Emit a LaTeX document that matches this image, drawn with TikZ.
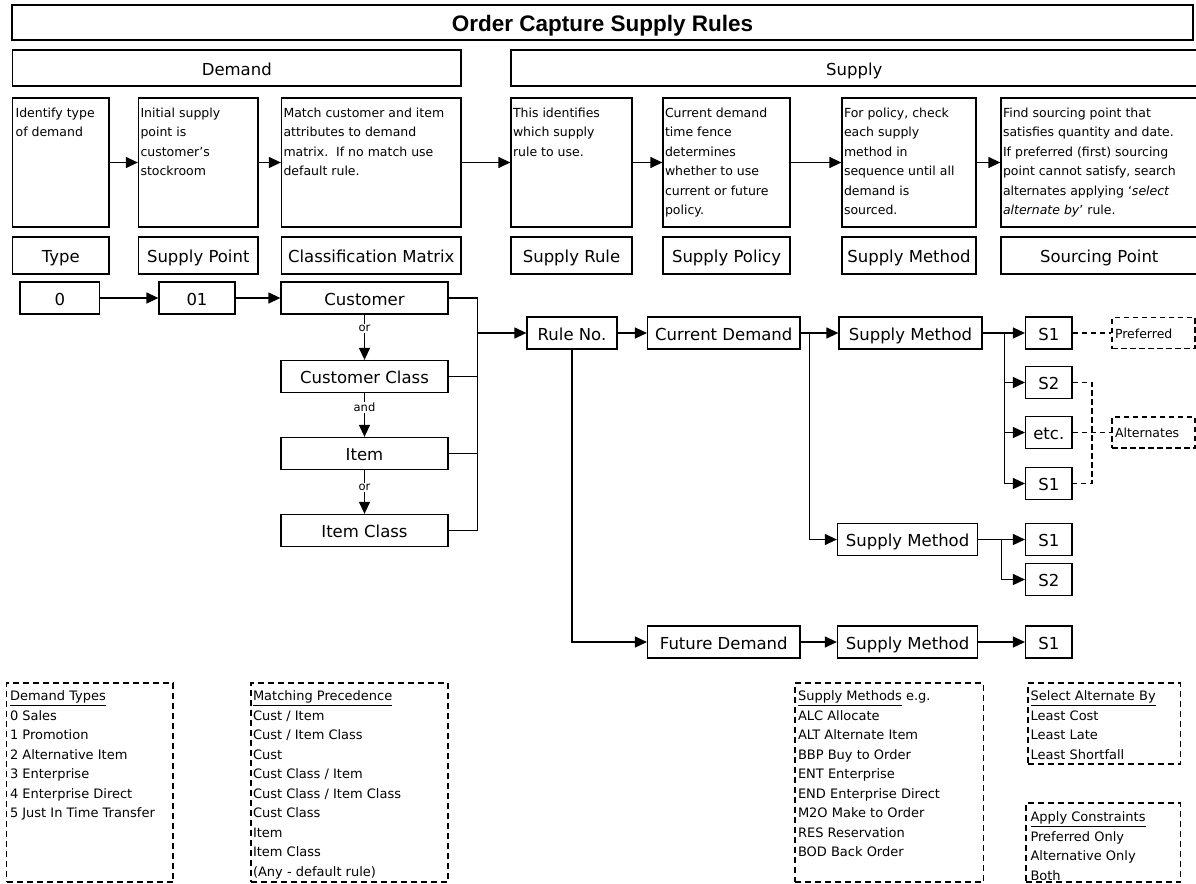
\documentclass[tikz,border=0pt]{standalone}
\usepackage{fontspec}
\setmainfont{DejaVu Sans}
\newfontfamily\headfont{Liberation Sans}
\usetikzlibrary{arrows.meta}
\begin{document}
\begin{tikzpicture}[x=1pt,y=-1pt,line width=1.3pt,
  box/.style={draw, inner sep=0pt, text height=14pt, text depth=0pt, font=\fontsize{16.5}{19}\selectfont},
  flow/.style={box, minimum height=32pt},
  sbox/.style={box, minimum width=46.4pt, minimum height=32pt},
  desctext/.style={anchor=north west, inner sep=0pt, align=left, font=\fontsize{12.5}{19.5}\selectfont},
  lgbox/.style={draw, dash pattern=on 6pt off 4pt, inner sep=0pt},
  lgtext/.style={anchor=north west, inner sep=0pt, align=left, font=\fontsize{13}{19.5}\selectfont},
  notebox/.style={draw, dash pattern=on 5.5pt off 3.5pt, inner xsep=3pt, inner ysep=0pt,
    text width=77pt, text height=10.5pt, text depth=0pt, minimum height=31pt, align=left,
    font=\fontsize{12.5}{14}\selectfont},
  lbl/.style={fill=white, inner sep=1pt, font=\fontsize{11.5}{12}\selectfont},
  tip/.style={-{Triangle[length=12pt,width=11pt]}},
  dsh/.style={dash pattern=on 5.5pt off 3.5pt}]

\useasboundingbox[fill=white] (0,0) rectangle (1196,883);

% headings
\node[box, minimum width=1181pt, minimum height=35pt, text height=18pt,
  font=\headfont\bfseries\fontsize{22.5}{24}\selectfont] (title) at (602.5,22.5) {Order Capture Supply Rules};
\node[box, minimum width=448.4pt, minimum height=36pt] (demand) at (236.8,68) {Demand};
\node[box, minimum width=686.5pt, minimum height=36pt] (supply) at (854.25,68) {Supply};

% description boxes
\node[box, minimum width=96.4pt, minimum height=129pt] (d1) at (60.8,162.5) {};
\node[box, minimum width=119.5pt, minimum height=129pt] (d2) at (198.25,162.5) {};
\node[box, minimum width=179.5pt, minimum height=129pt] (d3) at (371.25,162.5) {};
\node[box, minimum width=121pt, minimum height=129pt] (d4) at (571.5,162.5) {};
\node[box, minimum width=127pt, minimum height=129pt] (d5) at (726.5,162.5) {};
\node[box, minimum width=134pt, minimum height=129pt] (d6) at (909,162.5) {};
\node[box, minimum width=196.5pt, minimum height=129pt] (d7) at (1099.25,162.5) {};

\node[desctext] (t1) at ([xshift=3pt,yshift=-10pt]d1.north west) {Identify type\\of demand};
\node[desctext] (t2) at ([xshift=2pt,yshift=-10pt]d2.north west) {Initial supply\\point is\\customer's\\stockroom};
\node[desctext] (t3) at ([xshift=2pt,yshift=-10pt]d3.north west) {Match customer and item\\attributes to demand\\matrix.\ \ If no match use\\default rule.};
\node[desctext] (t4) at ([xshift=2pt,yshift=-10pt]d4.north west) {This identifies\\which supply\\rule to use.};
\node[desctext] (t5) at ([xshift=2pt,yshift=-10pt]d5.north west) {Current demand\\time fence\\determines\\whether to use\\current or future\\policy.};
\node[desctext] (t6) at ([xshift=2pt,yshift=-10pt]d6.north west) {For policy, check\\each supply\\method in\\sequence until all\\demand is\\sourced.};
\node[desctext] (t7) at ([xshift=2pt,yshift=-10pt]d7.north west) {Find sourcing point that\\satisfies quantity and date.\\If preferred (first) sourcing\\point cannot satisfy, search\\alternates applying `\textit{select}\\\textit{alternate by}' rule.};

\draw[tip] (d1.east) -- (d2.west);
\draw[tip] (d2.east) -- (d3.west);
\draw[tip] (d3.east) -- (d4.west);
\draw[tip] (d4.east) -- (d5.west);
\draw[tip] (d5.east) -- (d6.west);
\draw[tip] (d6.east) -- (d7.west);

% stage labels
\node[box, minimum width=96.4pt, minimum height=37pt] (l1) at (60.8,255.5) {Type};
\node[box, minimum width=119.5pt, minimum height=37pt] (l2) at (198.25,255.5) {Supply Point};
\node[box, minimum width=179.5pt, minimum height=37pt] (l3) at (371.25,255.5) {Classification Matrix};
\node[box, minimum width=121pt, minimum height=37pt] (l4) at (571.5,255.5) {Supply Rule};
\node[box, minimum width=127pt, minimum height=37pt] (l5) at (726.5,255.5) {Supply Policy};
\node[box, minimum width=134pt, minimum height=37pt] (l6) at (909,255.5) {Supply Method};
\node[box, minimum width=196.5pt, minimum height=37pt] (l7) at (1099.25,255.5) {Sourcing Point};

% demand flow
\node[flow, minimum width=79.5pt] (n0) at (59.75,298) {0};
\node[flow, minimum width=76pt] (n01) at (197,298) {01};
\node[flow, minimum width=167pt] (cust) at (364.5,298) {Customer};
\node[flow, minimum width=167pt] (custclass) at (364.5,376.5) {Customer Class};
\node[flow, minimum width=167pt] (item) at (364.5,453.5) {Item};
\node[flow, minimum width=167pt] (itemclass) at (364.5,530.5) {Item Class};

\draw[tip] (n0.east) -- (n01.west);
\draw[tip] (n01.east) -- (cust.west);
\draw[tip] (cust.south) -- node[lbl, pos=0.3] {or} (custclass.north);
\draw[tip] (custclass.south) -- node[lbl, pos=0.32] {and} (item.north);
\draw[tip] (item.south) -- node[lbl, pos=0.4] {or} (itemclass.north);

\coordinate (bt) at (477.6,298);
\coordinate (bb) at (477.6,530.5);
\draw (cust.east) -- (bt) -- (bb) -- (itemclass.east);
\draw (custclass.east) -- (custclass.east -| bt);
\draw (item.east) -- (item.east -| bt);

% supply flow
\node[flow, minimum width=90pt] (rule) at (572,333) {Rule No.};
\node[flow, minimum width=152.4pt] (curdem) at (723.8,333) {Current Demand};
\node[flow, minimum width=152.4pt] (futdem) at (723.8,642) {Future Demand};
\node[flow, minimum width=143pt] (sm1) at (910.5,333) {Supply Method};
\node[flow, minimum width=140.2pt] (sm2) at (907.6,539.5) {Supply Method};
\node[flow, minimum width=140.2pt] (sm3) at (907.6,642) {Supply Method};

\node[sbox] (s1a) at (1048.8,333) {S1};
\node[sbox] (s2a) at (1048.8,382.5) {S2};
\node[sbox] (etc) at (1048.8,432.5) {etc.};
\node[sbox] (s1b) at (1048.8,483.5) {S1};
\node[sbox] (s1c) at (1048.8,539.5) {S1};
\node[sbox] (s2c) at (1048.8,579.5) {S2};
\node[sbox] (s1d) at (1048.8,642) {S1};

\node[notebox] (pref) at (1153.5,333) {Preferred};
\node[notebox] (alt) at (1153.5,432.5) {Alternates};

\draw[tip] (rule.west -| bt) -- (rule.west);
\draw[tip] (rule.east) -- (curdem.west);
\draw[tip] (rule.south) |- (futdem.west);
\draw[tip] (curdem.east) -- (sm1.west);
\draw[tip] (curdem.east) -- ++(9pt,0) |- (sm2.west);
\draw[tip] (sm1.east) -- (s1a.west);
\draw[tip] (sm1.east) -- ++(22pt,0) |- (s2a.west);
\draw[tip] (sm1.east) -- ++(22pt,0) |- (etc.west);
\draw[tip] (sm1.east) -- ++(22pt,0) |- (s1b.west);
\draw[tip] (sm2.east) -- (s1c.west);
\draw[tip] (sm2.east) -- ++(23pt,0) |- (s2c.west);
\draw[tip] (futdem.east) -- (sm3.west);
\draw[tip] (sm3.east) -- (s1d.west);

\coordinate (dv) at (1092,0);
\draw[dsh] (s1a.east) -- (pref.west);
\draw[dsh] (s2a.east) -- (s2a.east -| dv) -- (s1b.east -| dv) -- (s1b.east);
\draw[dsh] (etc.east) -- (alt.west);

% legends
\node[lgbox, minimum width=166.5pt, minimum height=199pt] (lg1) at (89.75,782.5) {};
\node[lgbox, minimum width=197pt, minimum height=199pt] (lg2) at (349.5,782.5) {};
\node[lgbox, minimum width=188.6pt, minimum height=199pt] (lg3) at (889.3,782.5) {};
\node[lgbox, minimum width=152.5pt, minimum height=81pt] (lg4) at (1104.25,723.5) {};
\node[lgbox, minimum width=154.5pt, minimum height=79pt] (lg5) at (1103.25,842.5) {};

\node[lgtext] (lt1) at ([xshift=3.5pt,yshift=-8pt]lg1.north west) {\underline{Demand Types}\\0 Sales\\1 Promotion\\2 Alternative Item\\3 Enterprise\\4 Enterprise Direct\\5 Just In Time Transfer};
\node[lgtext] (lt2) at ([xshift=2pt,yshift=-8pt]lg2.north west) {\underline{Matching Precedence}\\Cust / Item\\Cust / Item Class\\Cust\\Cust Class / Item\\Cust Class / Item Class\\Cust Class\\Item\\Item Class\\(Any - default rule)};
\node[lgtext] (lt3) at ([xshift=3pt,yshift=-8pt]lg3.north west) {\underline{Supply Methods} e.g.\\ALC Allocate\\ALT Alternate Item\\BBP Buy to Order\\ENT Enterprise\\END Enterprise Direct\\M2O Make to Order\\RES Reservation\\BOD Back Order};
\node[lgtext] (lt4) at ([xshift=2.7pt,yshift=-8pt]lg4.north west) {\underline{Select Alternate By}\\Least Cost\\Least Late\\Least Shortfall};
\node[lgtext] (lt5) at ([xshift=4.5pt,yshift=-8.8pt]lg5.north west) {\underline{Apply Constraints}\\Preferred Only\\Alternative Only\\Both};

\end{tikzpicture}
\end{document}
